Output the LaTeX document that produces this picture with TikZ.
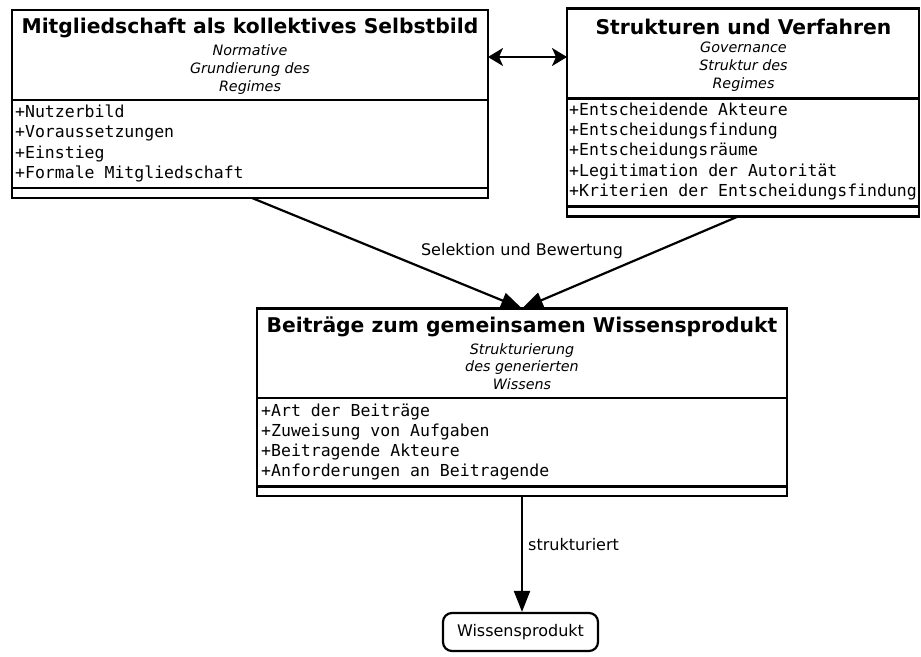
\documentclass[tikz,border=0pt]{standalone}
\usepackage{fontspec}
\setmainfont{DejaVu Sans}
\setmonofont{DejaVu Sans Mono}
\usetikzlibrary{arrows.meta,calc}
\begin{document}
\begin{tikzpicture}[x=1pt,y=-1pt,
  box/.style={draw,line width=2.2pt,inner sep=0pt,outer sep=0pt},
  sep/.style={line width=2.2pt},
  ttl/.style={font=\bfseries\fontsize{20.3}{24}\selectfont,inner sep=0pt},
  sub/.style={font=\itshape\fontsize{14.3}{17.8}\selectfont,align=center,inner sep=0pt},
  attr/.style={font=\ttfamily\fontsize{16.5}{20.2}\selectfont,align=left,inner sep=0pt,anchor=west},
  lbl/.style={font=\fontsize{16}{19}\selectfont,inner sep=0pt},
  conn/.style={line width=2.2pt,-{Triangle[length=21pt,width=16pt]}},
  biarrow/.style={line width=2.2pt,{Stealth[length=15pt,width=18pt,inset=4pt]}-{Stealth[length=15pt,width=18pt,inset=4pt]}}
]
\useasboundingbox (0,0) rectangle (921,656);

% Box 1
\node[box,minimum width=476pt,minimum height=188pt] (b1) at (250,104) {};
\draw[sep] (12,100) -- (488,100);
\draw[sep] (12,188) -- (488,188);
\node[ttl] (t1) at (250,28) {Mitgliedschaft als kollektives Selbstbild};
\node[sub] (s1) at (250,69.5) {Normative\\Grundierung des\\Regimes};
\node[attr] (a1) at (15,143.5) {+Nutzerbild\\+Voraussetzungen\\+Einstieg\\+Formale Mitgliedschaft};

% Box 2
\node[box,minimum width=352pt,minimum height=208pt] (b2) at (743,112.5) {};
\draw[sep] (567,98.5) -- (919,98.5);
\draw[sep] (567,206.5) -- (919,206.5);
\node[ttl] (t2) at (743.5,27) {Strukturen und Verfahren};
\node[sub] (s2) at (743.5,66.5) {Governance\\Struktur des\\Regimes};
\node[attr] (a2) at (569,151.5) {+Entscheidende Akteure\\+Entscheidungsfindung\\+Entscheidungsräume\\+Legitimation der Autorität\\+Kriterien der Entscheidungsfindung};

% Box 3
\node[box,minimum width=530pt,minimum height=187.5pt] (b3) at (522,402.25) {};
\draw[sep] (257,398) -- (787,398);
\draw[sep] (257,486.5) -- (787,486.5);
\node[ttl] (t3) at (522,327) {Beiträge zum gemeinsamen Wissensprodukt};
\node[sub] (s3) at (522,366.5) {Strukturierung\\des generierten\\Wissens};
\node[attr] (a3) at (261,442) {+Art der Beiträge\\+Zuweisung von Aufgaben\\+Beitragende Akteure\\+Anforderungen an Beitragende};

% Wissensprodukt
\node[draw,line width=2.2pt,rounded corners=9pt,minimum width=155pt,minimum height=38pt,inner sep=0pt,font=\fontsize{16}{19}\selectfont] (w) at (520.5,632) {Wissensprodukt};

% Connectors
\draw[biarrow] ([yshift=-47pt]b1.north east) -- ([yshift=-48.5pt]b2.north west);
\draw[conn] ([xshift=2pt]b1.south) -- (b3.north);
\draw[conn] ([xshift=-5pt]b2.south) -- (b3.north);
\node[lbl] (l1) at (522,251) {Selektion und Bewertung};
\draw[conn] (b3.south) -- (b3.south |- w.north);
\node[lbl,anchor=west] (l2) at (528,545) {strukturiert};
\end{tikzpicture}
\end{document}
